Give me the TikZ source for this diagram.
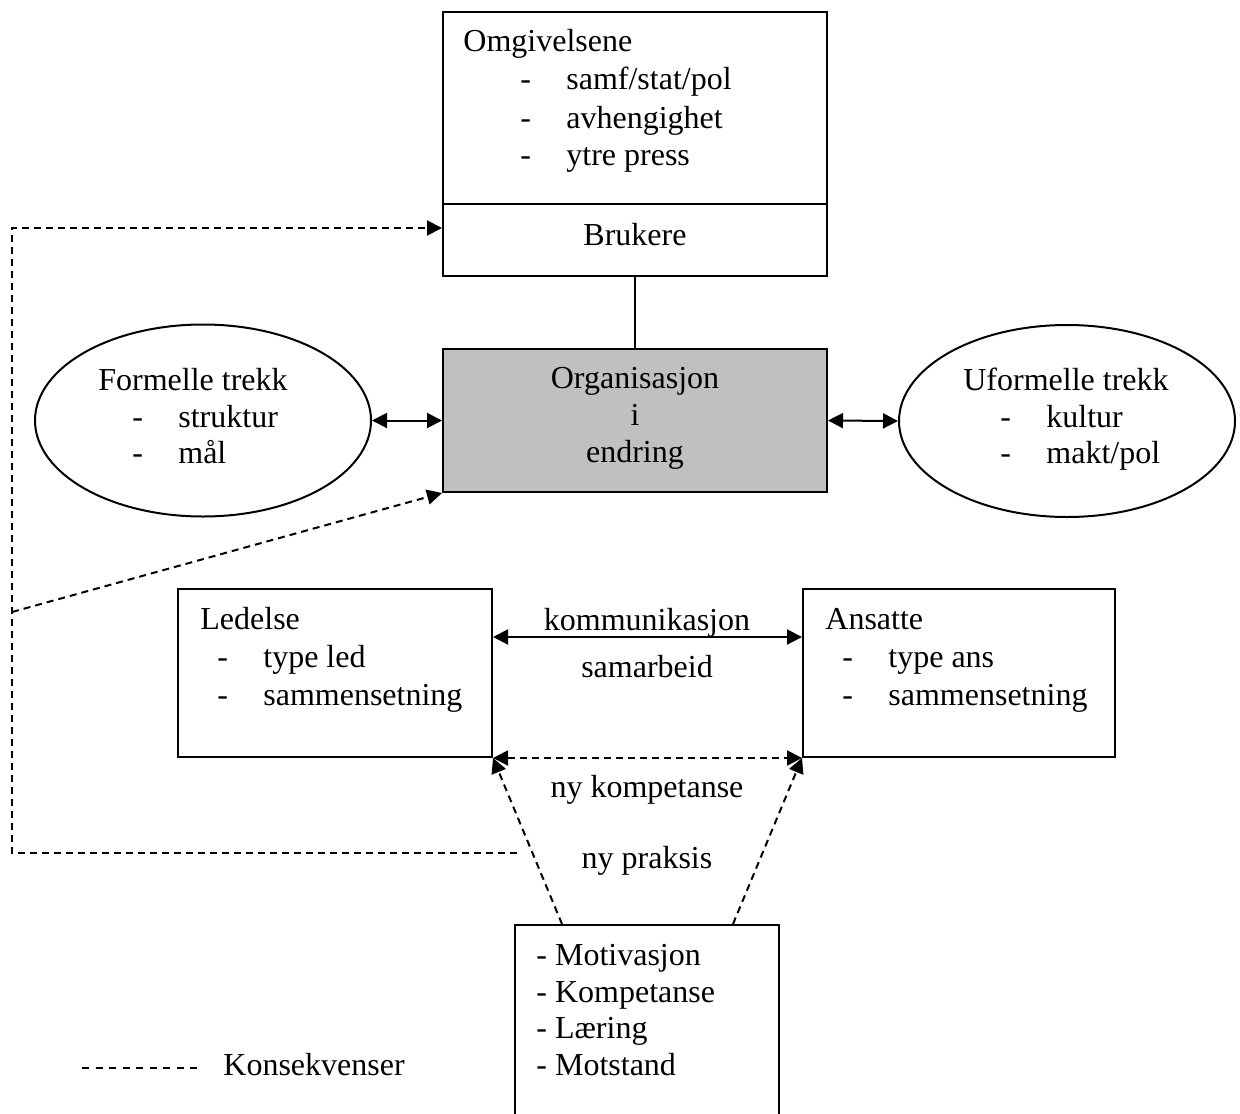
\documentclass[tikz,border=0pt]{standalone}
\usepackage{fontspec}
\setmainfont{Liberation Serif}
\usetikzlibrary{arrows.meta,shapes.geometric}

\newcommand{\listdash}[1]{\makebox[23pt][l]{-}#1}
\definecolor{orggray}{HTML}{C0C0C0}

\begin{document}
\begin{tikzpicture}[x=0.5pt,y=-0.5pt,
    every node/.style={font=\fontsize{16}{19}\selectfont, inner sep=0pt},
    box/.style={draw, line width=1pt, rectangle},
    oval/.style={draw, line width=1pt, ellipse, minimum width=168pt, minimum height=96pt},
    txt/.style={anchor=base west},
    ctxt/.style={anchor=base},
    link/.style={line width=1pt},
    tip/.style={-{Triangle[length=7.5pt,width=7.5pt]}},
    both/.style={{Triangle[length=7.5pt,width=7.5pt]}-{Triangle[length=7.5pt,width=7.5pt]}},
    feedback/.style={line width=1pt, dash pattern=on 3.5pt off 2.5pt}]
    \useasboundingbox (0,0) rectangle (1240,1113);

    % boxes and ovals
    \node[box, minimum width=192pt, minimum height=96pt] (omg) at (635,108) {};
    \node[box, minimum width=192pt, minimum height=36pt] (bruk) at (635,240) {};
    \node[box, fill=orggray, minimum width=192pt, minimum height=71.5pt] (org) at (635,420.5) {};
    \node[oval] (formell) at (203,420.5) {};
    \node[oval] (uformell) at (1067,421) {};
    \node[box, minimum width=157pt, minimum height=84pt] (led) at (335,673) {};
    \node[box, minimum width=156pt, minimum height=84pt] (ans) at (959,673) {};
    \node[box, minimum width=132pt, minimum height=104pt] (mot) at (647,1029) {};

    % texts
    \node[txt] (omgT) at (463,52) {Omgivelsene};
    \node[txt] (omg1) at (520,90) {\listdash{samf/stat/pol}};
    \node[txt] (omg2) at (520,128) {\listdash{avhengighet}};
    \node[txt] (omg3) at (520,165) {\listdash{ytre press}};
    \node[ctxt] (brukT) at (635,245) {Brukere};

    \node[ctxt] (org1) at (635,388) {Organisasjon};
    \node[ctxt] (org2) at (635,425) {i};
    \node[ctxt] (org3) at (635,462) {endring};

    \node[ctxt] (formT) at (193,390) {Formelle trekk};
    \node[txt] (form1) at (132,427) {\listdash{struktur}};
    \node[txt] (form2) at (132,463) {\listdash{mål}};

    \node[ctxt] (uformT) at (1066,390) {Uformelle trekk};
    \node[txt] (uform1) at (1000,427) {\listdash{kultur}};
    \node[txt] (uform2) at (1000,463) {\listdash{makt/pol}};

    \node[txt] (ledT) at (200,629) {Ledelse};
    \node[txt] (led1) at (217,667) {\listdash{type led}};
    \node[txt] (led2) at (217,705) {\listdash{sammensetning}};

    \node[txt] (ansT) at (825,629) {Ansatte};
    \node[txt] (ans1) at (842,667) {\listdash{type ans}};
    \node[txt] (ans2) at (842,705) {\listdash{sammensetning}};

    \node[ctxt] (komm) at (647,630) {kommunikasjon};
    \node[ctxt] (samb) at (647,677) {samarbeid};
    \node[ctxt] (nykomp) at (647,797) {ny kompetanse};
    \node[ctxt] (nyprak) at (647,868) {ny praksis};

    \node[txt] (mot1) at (536,965) {- Motivasjon};
    \node[txt] (mot2) at (536,1002) {- Kompetanse};
    \node[txt] (mot3) at (536,1038) {- Læring};
    \node[txt] (mot4) at (536,1075) {- Motstand};

    % connectors
    \draw[link] (bruk.south) -- (org.north);
    \draw[link, both] (formell.east) -- (org.west);
    \draw[link, both] (org.east) -- (uformell.west);
    \draw[link, both] ([yshift=18pt]led.east) -- ([yshift=18pt]ans.west);
    \draw[feedback, both] (led.south east) -- (ans.south west);
    \draw[feedback, tip] ([xshift=24pt]mot.north west) -- (led.south east);
    \draw[feedback, tip] ([xshift=-23.5pt]mot.north east) -- (ans.south west);

    % consequences
    \coordinate (fb) at (517,853);
    \coordinate (fbs) at (12,612);
    \draw[feedback, tip] (fb) -- (12,853) |- ([yshift=6pt]bruk.west);
    \draw[feedback, tip] (fbs) -- (org.south west);

    % legend
    \coordinate (legA) at (82,1068);
    \coordinate (legB) at (197,1068);
    \draw[link, dash pattern=on 3.5pt off 3.25pt] (legA) -- (legB);
    \node[txt] (legT) at (223,1075) {Konsekvenser};
\end{tikzpicture}
\end{document}
